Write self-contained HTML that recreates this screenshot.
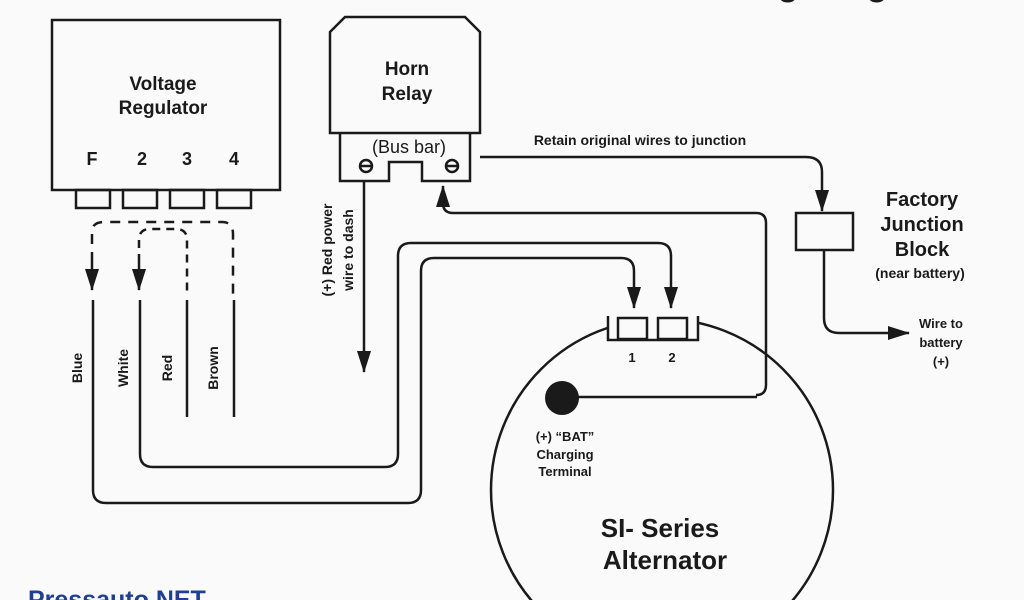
<!DOCTYPE html>
<html><head><meta charset="utf-8"><style>
html,body{margin:0;padding:0;background:#fafafa;width:1024px;height:600px;overflow:hidden;}
svg{display:block;}
text{font-family:"Liberation Sans",Arial,sans-serif;fill:#1a1a1a;}
.b{font-weight:bold;}
</style></head><body>
<svg width="1024" height="600" viewBox="0 0 1024 600" xmlns="http://www.w3.org/2000/svg">
<defs>
<marker id="ar2" markerWidth="22" markerHeight="14" refX="21" refY="7" orient="auto" markerUnits="userSpaceOnUse" viewBox="0 0 22 14">
<path d="M0,0 L22,7 L0,14 z" fill="#1a1a1a"/></marker>
</defs>
<rect width="1024" height="600" fill="#fafafa"/>
<g stroke="#1a1a1a" stroke-width="2.5" fill="none">
<rect x="52" y="20" width="228" height="170"/>
<rect x="76" y="190" width="34" height="18"/>
<rect x="123" y="190" width="34" height="18"/>
<rect x="170" y="190" width="34" height="18"/>
<rect x="217" y="190" width="34" height="18"/>
<path d="M92,262 L92,232 Q92,222 104,222 L222,222 Q233,222 233,234 L233,300" stroke-dasharray="10,8"/>
<path d="M92,262 L92,290" marker-end="url(#ar2)"/>
<path d="M139,262 L139,240 Q139,229 150,229 L176,229 Q187,229 187,240 L187,295" stroke-dasharray="8,6"/>
<path d="M139,262 L139,290" marker-end="url(#ar2)"/>
<path d="M93,300 L93,490 Q93,503 106,503 L408,503 Q421,503 421,490 L421,271 Q421,258 434,258 L621,258 Q634,258 634,271 L634,308" marker-end="url(#ar2)"/>
<path d="M140,300 L140,454 Q140,467 153,467 L385,467 Q398,467 398,454 L398,256 Q398,243 411,243 L658,243 Q671,243 671,256 L671,308" marker-end="url(#ar2)"/>
<line x1="187" y1="300" x2="187" y2="417"/>
<line x1="234" y1="300" x2="234" y2="417"/>
<path d="M330,133 L330,32 L345,17 L465,17 L480,32 L480,133 Z"/>
<path d="M340,133 L340,181 L389,181 L389,162 L422,162 L422,181 L470,181 L470,133"/>
<circle cx="366" cy="166" r="6"/><line x1="361" y1="166" x2="371" y2="166"/>
<circle cx="452" cy="166" r="6"/><line x1="447" y1="166" x2="457" y2="166"/>
<path d="M364,181 L364,372" marker-end="url(#ar2)"/>
<path d="M756,395 Q766,395 766,385 L766,223 Q766,213 756,213 L453,213 Q443,213 443,203 L443,186" marker-end="url(#ar2)"/>
<line x1="562" y1="397" x2="757" y2="397"/>
<path d="M480,157 L806,157 Q822,157 822,172 L822,211" marker-end="url(#ar2)"/>
<rect x="796" y="213" width="57" height="37"/>
<path d="M824,250 L824,318 Q824,333 839,333 L909,333" marker-end="url(#ar2)"/>
<circle cx="662" cy="490" r="171"/>
</g>
<rect x="609" y="312" width="88" height="27" fill="#fafafa"/>
<g stroke="#1a1a1a" stroke-width="2.5" fill="none">
<path d="M608,316 L608,340 L698,340 L698,316"/>
<rect x="618" y="318" width="29" height="21"/>
<rect x="658" y="318" width="29" height="21"/>
</g>
<circle cx="562" cy="398" r="17" fill="#1a1a1a"/>
<text x="163" y="90" font-size="19" class="b" text-anchor="middle">Voltage</text>
<text x="163" y="114" font-size="19" class="b" text-anchor="middle">Regulator</text>
<g font-size="18" text-anchor="middle" class="b"><text x="92" y="165">F</text><text x="142" y="165">2</text><text x="187" y="165">3</text><text x="234" y="165">4</text></g>
<text x="407" y="75" font-size="19" class="b" text-anchor="middle">Horn</text>
<text x="407" y="100" font-size="19" class="b" text-anchor="middle">Relay</text>
<text x="409" y="153" font-size="18" text-anchor="middle">(Bus bar)</text>
<g font-size="14" class="b" text-anchor="middle">
<text transform="translate(82,368) rotate(-90)">Blue</text>
<text transform="translate(128,368) rotate(-90)">White</text>
<text transform="translate(172,368) rotate(-90)">Red</text>
<text transform="translate(218,368) rotate(-90)">Brown</text>
<text transform="translate(332,250) rotate(-90)">(+) Red power</text>
<text transform="translate(353,250) rotate(-90)">wire to dash</text>
</g>
<text x="640" y="145" font-size="14" class="b" text-anchor="middle">Retain original wires to junction</text>
<text x="922" y="206" font-size="20" class="b" text-anchor="middle">Factory</text>
<text x="922" y="231" font-size="20" class="b" text-anchor="middle">Junction</text>
<text x="922" y="256" font-size="20" class="b" text-anchor="middle">Block</text>
<text x="920" y="278" font-size="14" class="b" text-anchor="middle">(near battery)</text>
<text x="941" y="328" font-size="13" class="b" text-anchor="middle">Wire to</text>
<text x="941" y="347" font-size="13" class="b" text-anchor="middle">battery</text>
<text x="941" y="366" font-size="13" class="b" text-anchor="middle">(+)</text>
<text x="632" y="362" font-size="13" class="b" text-anchor="middle">1</text>
<text x="672" y="362" font-size="13" class="b" text-anchor="middle">2</text>
<text x="565" y="441" font-size="13" class="b" text-anchor="middle">(+) “BAT”</text>
<text x="565" y="459" font-size="13" class="b" text-anchor="middle">Charging</text>
<text x="565" y="476" font-size="13" class="b" text-anchor="middle">Terminal</text>
<text x="660" y="537" font-size="26" class="b" text-anchor="middle">SI- Series</text>
<text x="665" y="569" font-size="26" class="b" text-anchor="middle">Alternator</text>
<text x="777" y="-6" font-size="40">g</text><text x="866" y="-6" font-size="40">g</text>
<text x="28" y="608" font-size="25" class="b" style="fill:#1f3f96">Pressauto.NET</text>
</svg>
</body></html>
